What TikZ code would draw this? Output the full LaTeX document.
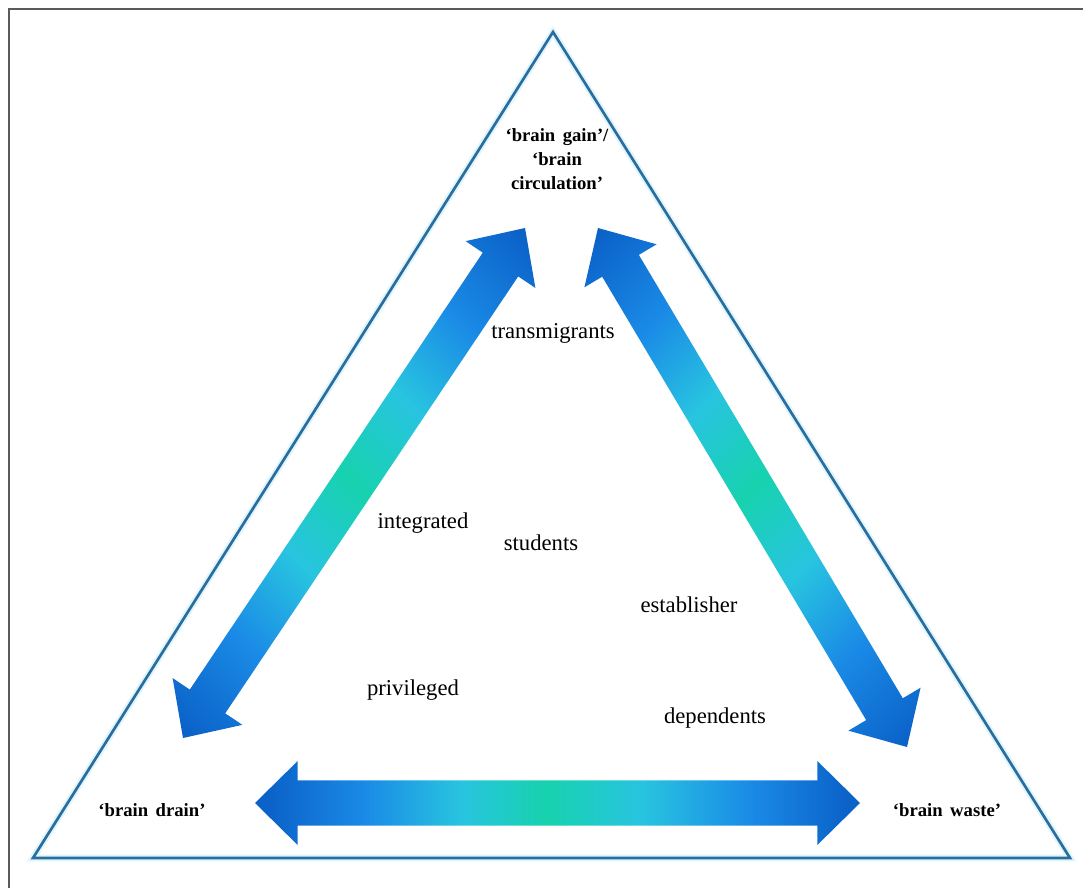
\documentclass[tikz,border=0pt]{standalone}
\usepackage{fontspec}
\setmainfont{Liberation Serif}
\usetikzlibrary{calc}
\definecolor{ablue}{HTML}{0B62C8}
\definecolor{mblue}{HTML}{1A8AE6}
\definecolor{acyan}{HTML}{28C4E0}
\definecolor{agreen}{HTML}{17D2AE}
\definecolor{tri}{HTML}{2A6E9E}
\definecolor{frame}{HTML}{5A5A5A}
\pgfdeclarehorizontalshading{dshade}{100bp}{color(0bp)=(ablue); color(16bp)=(ablue); color(28bp)=(mblue); color(39bp)=(acyan); color(50bp)=(agreen); color(61bp)=(acyan); color(72bp)=(mblue); color(84bp)=(ablue); color(100bp)=(ablue)}
\pgfdeclarehorizontalshading{hshade}{100bp}{color(0bp)=(ablue); color(26bp)=(ablue); color(34bp)=(mblue); color(42bp)=(acyan); color(49bp)=(agreen); color(57bp)=(acyan); color(66bp)=(mblue); color(74bp)=(ablue); color(100bp)=(ablue)}
\newcommand\fatdblarrow[6]{%
  \path ($(#1)!#3!(#2)$) coordinate (#1-p) ($(#2)!#3!(#1)$) coordinate (#2-p);
  \path[#6] (#1) -- ($(#1-p)!#4!90:(#2)$) -- ($(#1-p)!#5!90:(#2)$)
    -- ($(#2-p)!#5!-90:(#1)$) -- ($(#2-p)!#4!-90:(#1)$) -- (#2)
    -- ($(#2-p)!#4!90:(#1)$) -- ($(#2-p)!#5!90:(#1)$)
    -- ($(#1-p)!#5!-90:(#2)$) -- ($(#1-p)!#4!-90:(#2)$) -- cycle;}
\tikzset{
  corner/.style={font=\fontsize{14}{18}\selectfont\bfseries, align=center, inner sep=1pt},
  group/.style={font=\fontsize{17}{20}\selectfont, inner sep=1pt},
}
\begin{document}
\begin{tikzpicture}[x=0.75pt,y=-0.75pt]
\useasboundingbox (0,0) rectangle (1083,888);
\fill[white] (0,0) rectangle (1083,888);
% frame
\draw[frame, line width=2pt] (9,888) -- (9,9) -- (1083,9);
% triangle
\coordinate (apex) at (553,32);
\coordinate (bl) at (33,858);
\coordinate (br) at (1070,858);
\draw[cyan!12, line width=5pt, line join=miter] (apex) -- (br) -- (bl) -- cycle;
\draw[tri, line width=2pt, line join=miter] (apex) -- (br) -- (bl) -- cycle;
% arrows
\coordinate (la1) at (183,738);
\coordinate (la2) at (525,228);
\coordinate (ra1) at (598,228);
\coordinate (ra2) at (907,747);
\coordinate (ba1) at (255,803);
\coordinate (ba2) at (860,803);
\fatdblarrow{la1}{la2}{33pt}{31.5pt}{16pt}{shading=dshade, shading angle=45}
\fatdblarrow{ra1}{ra2}{33pt}{31.5pt}{16pt}{shading=dshade, shading angle=-45}
\fatdblarrow{ba1}{ba2}{32pt}{31.5pt}{17pt}{shading=hshade, shading angle=0}
% labels
\node[corner] (gain) at (557,159) {‘brain\hspace{0.4em}gain’/\\‘brain\\circulation’};
\node[corner] (drain) at (152,810) {‘brain\hspace{0.4em}drain’};
\node[corner] (waste) at (947,810) {‘brain\hspace{0.4em}waste’};
\node[group] (trans) at (553,333) {transmigrants};
\node[group] (integ) at (423,523) {integrated};
\node[group] (stud) at (541,543) {students};
\node[group] (estab) at (689,605) {establisher};
\node[group] (priv) at (413,690) {privileged};
\node[group] (dep) at (715,718) {dependents};
\end{tikzpicture}
\end{document}
